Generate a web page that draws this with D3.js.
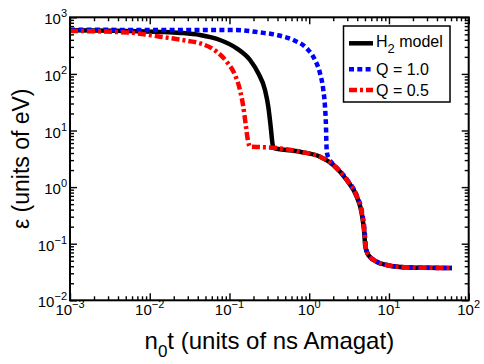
<!DOCTYPE html>
<html><head><meta charset="utf-8">
<script src="https://cdn.jsdelivr.net/npm/d3@7"></script>
<style>body{margin:0;background:#fff}svg{display:block;font-family:"Liberation Sans",Arial,sans-serif}</style>
</head><body>
<svg id="c" width="484" height="364"></svg>
<script>
const xMajor = [1e-3, 1e-2, 1e-1, 1e0, 1e1, 1e2];
const xExp = ["-3", "-2", "-1", "0", "1", "2"];
const yMajor = [1e-2, 1e-1, 1e0, 1e1, 1e2, 1e3];
const yExp = ["-2", "-1", "0", "1", "2", "3"];

const h2Model = [[0.001,590],[0.005,575],[0.0135,552],[0.024,530],[0.0427,487],[0.076,397],[0.1231,283],[0.181,176],[0.2298,102.5],[0.2789,52],[0.3068,26.3],[0.3288,11.7],[0.3483,5.54],[0.3616,4.9],[0.766,4.22],[1.366,3.44],[2.004,2.46],[2.951,1.335],[3.94,0.677],[4.55,0.344],[4.91,0.1527],[5.05,0.0886],[5.5,0.0632],[7.02,0.0481],[9.37,0.042],[13.76,0.0388],[25,0.0376],[61.7,0.0373]];
const q10 = [[0.001,600],[0.12,597],[0.2415,540],[0.391,487],[0.631,397],[0.93,283],[1.182,176],[1.365,102.5],[1.502,52],[1.577,26.3],[1.623,11.7],[1.645,5.5],[1.67,4.0],[1.8,3.05],[2.05,2.46],[3.0,1.335],[4.0,0.677],[4.62,0.344],[4.98,0.1527],[5.12,0.0886],[5.55,0.0632],[7.05,0.0481],[9.4,0.042],[13.76,0.0388],[25,0.0376],[61.7,0.0373]];
const q05 = [[0.001,575],[0.0052,540],[0.01345,455],[0.0293,385],[0.0427,347],[0.0691,247],[0.0923,164],[0.1173,95.6],[0.1355,51.9],[0.149,26.3],[0.161,11.7],[0.1692,7.0],[0.181,5.2],[0.25,5.1],[0.3616,4.95],[0.766,4.22],[1.366,3.44],[2.02,2.46],[2.97,1.335],[3.97,0.677],[4.58,0.344],[4.94,0.1527],[5.08,0.0886],[5.52,0.0632],[7.03,0.0481],[9.38,0.042],[13.76,0.0388],[25,0.0376],[61.7,0.0373]];

const legendLabels = ["H", "Q = 1.0", "Q = 0.5"];

const W = 484, H = 364;
const m = {l:70, r:15.3, t:17.3, b:63.7};
const svg = d3.select("#c");
svg.append("rect").attr("width",W).attr("height",H).attr("fill","#fff");

const x = d3.scaleLog().domain([1e-3, 1e2]).range([m.l, W - m.r]);
const y = d3.scaleLog().domain([1e-2, 1e3]).range([H - m.b, m.t]);

function minors(dom){
  const out=[];
  for(let e=Math.log10(dom[0]); e<Math.log10(dom[1]); e++){
    for(let k=2;k<=9;k++) out.push(k*Math.pow(10,e));
  }
  return out;
}
const xMinor = minors([1e-3,1e2]);
const yMinor = minors([1e-2,1e3]);

const pb = H - m.b, pt = m.t, pl = m.l, pr = W - m.r;
function ax(g){ g.select(".domain").remove(); g.selectAll("line").attr("stroke","#000").attr("stroke-width",1.4); }
svg.append("g").attr("transform",`translate(0,${pb})`).call(d3.axisBottom(x).tickValues(xMajor).tickSize(-7).tickFormat("")).call(ax);
svg.append("g").attr("transform",`translate(0,${pb})`).call(d3.axisBottom(x).tickValues(xMinor).tickSize(-4).tickFormat("")).call(ax);
svg.append("g").attr("transform",`translate(0,${pt})`).call(d3.axisTop(x).tickValues(xMajor).tickSize(-7).tickFormat("")).call(ax);
svg.append("g").attr("transform",`translate(0,${pt})`).call(d3.axisTop(x).tickValues(xMinor).tickSize(-4).tickFormat("")).call(ax);
svg.append("g").attr("transform",`translate(${pl},0)`).call(d3.axisLeft(y).tickValues(yMajor).tickSize(-7).tickFormat("")).call(ax);
svg.append("g").attr("transform",`translate(${pl},0)`).call(d3.axisLeft(y).tickValues(yMinor).tickSize(-4).tickFormat("")).call(ax);
svg.append("g").attr("transform",`translate(${pr},0)`).call(d3.axisRight(y).tickValues(yMajor).tickSize(-7).tickFormat("")).call(ax);
svg.append("g").attr("transform",`translate(${pr},0)`).call(d3.axisRight(y).tickValues(yMinor).tickSize(-4).tickFormat("")).call(ax);

// tick labels
xMajor.forEach((v,i)=>{
  const t = svg.append("text").attr("x",x(v)).attr("y",pb+15).attr("text-anchor","middle").attr("font-size",15).attr("fill","#000");
  t.append("tspan").text("10");
  t.append("tspan").attr("dy",-7).attr("font-size",11).text(xExp[i].replace("-","\u2212"));
});
yMajor.forEach((v,i)=>{
  const t = svg.append("text").attr("x",pl-3).attr("y",y(v)+7).attr("text-anchor","end").attr("font-size",15).attr("fill","#000");
  t.append("tspan").text("10");
  t.append("tspan").attr("dy",-7).attr("font-size",11).text(yExp[i].replace("-","\u2212"));
});

// clip
svg.append("clipPath").attr("id","clip").append("rect").attr("x",pl).attr("y",pt).attr("width",pr-pl).attr("height",pb-pt);

const line = d3.line().x(d=>x(d[0])).y(d=>y(d[1])).curve(d3.curveMonotoneX);
const g = svg.append("g").attr("clip-path","url(#clip)");
g.append("path").datum(h2Model).attr("d",line).attr("fill","none").attr("stroke","#000").attr("stroke-width",4.5);
g.append("path").datum(q10).attr("d",line).attr("fill","none").attr("stroke","#0000ff").attr("stroke-width",4.5).attr("stroke-dasharray","5,3.3");
g.append("path").datum(q05).attr("d",line).attr("fill","none").attr("stroke","#ff0000").attr("stroke-width",4.5).attr("stroke-dasharray","8,3,3,3");

// frame
svg.append("rect").attr("x",pl).attr("y",pt).attr("width",pr-pl).attr("height",pb-pt).attr("fill","none").attr("stroke","#000").attr("stroke-width",2);

// legend
const lg = svg.append("g");
lg.append("rect").attr("x",343.5).attr("y",26).attr("width",106.5).attr("height",76).attr("fill","#fff").attr("stroke","#000").attr("stroke-width",1.5);
const rows = [{y:43.3, c:"#000", d:null},{y:69.3, c:"#0000ff", d:"5,3.3"},{y:90, c:"#ff0000", d:"8,3,3,3"}];
rows.forEach((r,i)=>{
  const l = lg.append("line").attr("x1",349).attr("x2",373).attr("y1",r.y).attr("y2",r.y).attr("stroke",r.c).attr("stroke-width",4.5);
  if(r.d) l.attr("stroke-dasharray",r.d);
});
const t1 = lg.append("text").attr("x",376).attr("y",47).attr("font-size",16).attr("fill","#000");
t1.append("tspan").text(legendLabels[0]);
t1.append("tspan").attr("dy",6).attr("font-size",13).text("2");
t1.append("tspan").attr("dy",-6).text(" model");
lg.append("text").attr("x",376).attr("y",75).attr("font-size",16).attr("fill","#000").text(legendLabels[1]);
lg.append("text").attr("x",376).attr("y",96).attr("font-size",16).attr("fill","#000").text(legendLabels[2]);

// axis titles
const xt = svg.append("text").attr("x",(pl+pr)/2).attr("y",349).attr("text-anchor","middle").attr("font-size",24).attr("fill","#000");
xt.append("tspan").text("n");
xt.append("tspan").attr("dy",8).attr("font-size",17).text("0");
xt.append("tspan").attr("dy",-8).text("t (units of ns Amagat)");
svg.append("text").attr("transform",`translate(29,${(pt+pb)/2}) rotate(-90)`).attr("text-anchor","middle").attr("font-size",23).attr("fill","#000").text("\u03b5 (units of eV)");
</script>
</body></html>
